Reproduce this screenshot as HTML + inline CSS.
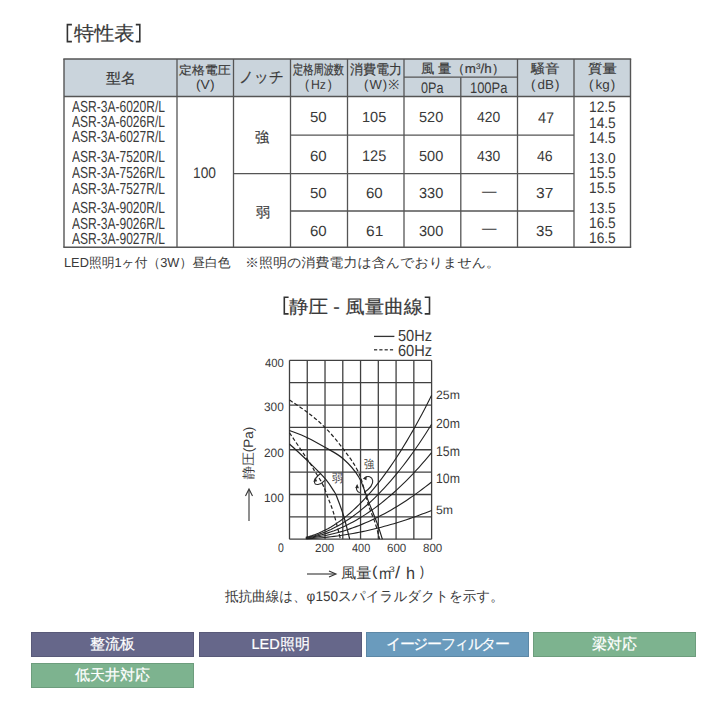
<!DOCTYPE html>
<html><head><meta charset="utf-8">
<style>
html,body{margin:0;padding:0;background:#fff;width:720px;height:720px;overflow:hidden;}
body{position:relative;font-family:"Liberation Sans",sans-serif;}
.t{position:absolute;white-space:nowrap;line-height:1.117;text-rendering:geometricPrecision;}
.j{-webkit-text-stroke:0.2px #3a3a3a;}
.tag{position:absolute;width:163px;height:24.7px;line-height:25px;text-align:center;color:#fff;font-size:14.5px;-webkit-text-stroke:0.2px #fff;box-sizing:border-box;box-shadow:inset 0 0 0 1px rgba(0,0,0,0.12);}
</style></head><body>
<div style="position:absolute;left:64px;top:59px;width:566.5px;height:37.5px;background:#cad4dc"></div>
<svg width="720" height="720" style="position:absolute;left:0;top:0"><line x1="289.50" y1="360.3" x2="289.50" y2="539.2" stroke="#404040" stroke-width="1.3"/><line x1="289.5" y1="360.30" x2="431.6" y2="360.30" stroke="#404040" stroke-width="1.3"/><line x1="307.26" y1="360.3" x2="307.26" y2="539.2" stroke="#404040" stroke-width="1.3"/><line x1="289.5" y1="382.66" x2="431.6" y2="382.66" stroke="#404040" stroke-width="1.3"/><line x1="325.02" y1="360.3" x2="325.02" y2="539.2" stroke="#404040" stroke-width="1.3"/><line x1="289.5" y1="405.03" x2="431.6" y2="405.03" stroke="#404040" stroke-width="1.3"/><line x1="342.79" y1="360.3" x2="342.79" y2="539.2" stroke="#404040" stroke-width="1.3"/><line x1="289.5" y1="427.39" x2="431.6" y2="427.39" stroke="#404040" stroke-width="1.3"/><line x1="360.55" y1="360.3" x2="360.55" y2="539.2" stroke="#404040" stroke-width="1.3"/><line x1="289.5" y1="449.75" x2="431.6" y2="449.75" stroke="#404040" stroke-width="1.3"/><line x1="378.31" y1="360.3" x2="378.31" y2="539.2" stroke="#404040" stroke-width="1.3"/><line x1="289.5" y1="472.11" x2="431.6" y2="472.11" stroke="#404040" stroke-width="1.3"/><line x1="396.08" y1="360.3" x2="396.08" y2="539.2" stroke="#404040" stroke-width="1.3"/><line x1="289.5" y1="494.48" x2="431.6" y2="494.48" stroke="#404040" stroke-width="1.3"/><line x1="413.84" y1="360.3" x2="413.84" y2="539.2" stroke="#404040" stroke-width="1.3"/><line x1="289.5" y1="516.84" x2="431.6" y2="516.84" stroke="#404040" stroke-width="1.3"/><line x1="431.60" y1="360.3" x2="431.60" y2="539.2" stroke="#404040" stroke-width="1.3"/><line x1="289.5" y1="539.20" x2="431.6" y2="539.20" stroke="#404040" stroke-width="1.3"/><line x1="63.3" y1="59" x2="631.2" y2="59" stroke="#555" stroke-width="1.5"/><line x1="63.3" y1="247.3" x2="631.2" y2="247.3" stroke="#555" stroke-width="1.5"/><line x1="64" y1="59" x2="64" y2="247.3" stroke="#555" stroke-width="1.4"/><line x1="630.5" y1="59" x2="630.5" y2="247.3" stroke="#555" stroke-width="1.4"/><line x1="64" y1="96.5" x2="630.5" y2="96.5" stroke="#555" stroke-width="1.4"/><line x1="177" y1="59" x2="177" y2="247.3" stroke="#555" stroke-width="1.3"/><line x1="233.5" y1="59" x2="233.5" y2="247.3" stroke="#555" stroke-width="1.3"/><line x1="290.5" y1="59" x2="290.5" y2="247.3" stroke="#555" stroke-width="1.3"/><line x1="347.5" y1="59" x2="347.5" y2="247.3" stroke="#555" stroke-width="1.3"/><line x1="404" y1="59" x2="404" y2="247.3" stroke="#555" stroke-width="1.3"/><line x1="460.8" y1="77.2" x2="460.8" y2="247.3" stroke="#555" stroke-width="1.3"/><line x1="517.5" y1="59" x2="517.5" y2="247.3" stroke="#555" stroke-width="1.3"/><line x1="574" y1="59" x2="574" y2="247.3" stroke="#555" stroke-width="1.3"/><line x1="404" y1="77.2" x2="517.5" y2="77.2" stroke="#555" stroke-width="1.3"/><line x1="290.5" y1="135.2" x2="574" y2="135.2" stroke="#555" stroke-width="1.3"/><line x1="233.5" y1="173.7" x2="574" y2="173.7" stroke="#555" stroke-width="1.3"/><line x1="290.5" y1="211" x2="574" y2="211" stroke="#555" stroke-width="1.3"/><line x1="374" y1="336.4" x2="394.4" y2="336.4" stroke="#333" stroke-width="1.3"/><line x1="374.0" y1="349.8" x2="377.2" y2="349.8" stroke="#333" stroke-width="1.3"/><line x1="379.3" y1="349.8" x2="382.5" y2="349.8" stroke="#333" stroke-width="1.3"/><line x1="384.6" y1="349.8" x2="387.8" y2="349.8" stroke="#333" stroke-width="1.3"/><line x1="389.9" y1="349.8" x2="393.09999999999997" y2="349.8" stroke="#333" stroke-width="1.3"/><path d="M289.50,430.52 C292.46,431.71 301.28,434.84 307.26,437.67 C313.24,440.51 319.40,444.01 325.38,447.51 C331.36,451.02 337.58,453.78 343.14,458.70 C348.71,463.61 354.54,469.88 358.77,477.03 C363.01,484.19 365.52,494.03 368.54,501.63 C371.56,509.23 374.58,516.39 376.89,522.65 C379.20,528.91 381.48,536.44 382.40,539.20" fill="none" stroke="#222" stroke-width="1.2"/><path d="M289.50,443.94 C292.70,446.92 302.70,456.01 308.68,461.83 C314.66,467.64 321.21,473.98 325.38,478.82 C329.55,483.67 331.86,487.99 333.73,490.90 C335.59,493.80 334.94,492.16 336.57,496.26 C338.20,500.36 341.31,508.34 343.50,515.50 C345.69,522.65 348.68,535.25 349.71,539.20" fill="none" stroke="#222" stroke-width="1.2"/><path d="M289.50,400.11 C292.46,402.12 301.28,407.56 307.26,412.18 C313.24,416.80 319.40,421.72 325.38,427.83 C331.36,433.95 337.58,441.33 343.14,448.86 C348.71,456.38 354.54,463.61 358.77,473.01 C363.01,482.40 365.76,496.71 368.54,505.21 C371.33,513.71 373.64,518.33 375.47,523.99 C377.31,529.66 378.87,536.67 379.56,539.20" fill="none" stroke="#222" stroke-width="1.2" stroke-dasharray="3.8,2.2"/><path d="M289.50,432.75 C292.90,437.82 305.81,456.91 309.93,463.17 C314.04,469.43 312.44,467.49 314.19,470.32 C315.94,473.16 318.66,477.11 320.41,480.16 C322.15,483.22 323.60,486.24 324.67,488.66 C325.74,491.08 325.32,490.67 326.80,494.70 C328.28,498.72 331.27,505.40 333.55,512.81 C335.83,520.23 339.32,534.80 340.48,539.20" fill="none" stroke="#222" stroke-width="1.2" stroke-dasharray="3.8,2.2"/><path d="M305.84,537.30 L308.99,536.49 L312.13,535.55 L315.27,534.46 L318.42,533.24 L321.56,531.87 L324.71,530.36 L327.85,528.71 L330.99,526.92 L334.14,524.99 L337.28,522.92 L340.43,520.70 L343.57,518.35 L346.71,515.85 L349.86,513.22 L353.00,510.44 L356.14,507.52 L359.29,504.46 L362.43,501.26 L365.58,497.92 L368.72,494.44 L371.86,490.82 L375.01,487.05 L378.15,483.15 L381.30,479.10 L384.44,474.91 L387.58,470.59 L390.73,466.12 L393.87,461.51 L397.02,456.75 L400.16,451.86 L403.30,446.83 L406.45,441.65 L409.59,436.34 L412.74,430.88 L415.88,425.29 L419.02,419.55 L422.17,413.67 L425.31,407.65 L428.46,401.49 L431.60,395.19" fill="none" stroke="#222" stroke-width="1.1"/><path d="M305.84,537.68 L308.99,537.04 L312.13,536.28 L315.27,535.42 L318.42,534.44 L321.56,533.35 L324.71,532.14 L327.85,530.83 L330.99,529.40 L334.14,527.86 L337.28,526.20 L340.43,524.44 L343.57,522.56 L346.71,520.57 L349.86,518.46 L353.00,516.25 L356.14,513.92 L359.29,511.48 L362.43,508.92 L365.58,506.25 L368.72,503.47 L371.86,500.58 L375.01,497.58 L378.15,494.46 L381.30,491.23 L384.44,487.89 L387.58,484.44 L390.73,480.87 L393.87,477.19 L397.02,473.40 L400.16,469.49 L403.30,465.48 L406.45,461.35 L409.59,457.10 L412.74,452.75 L415.88,448.28 L419.02,443.70 L422.17,439.01 L425.31,434.20 L428.46,429.29 L431.60,424.26" fill="none" stroke="#222" stroke-width="1.1"/><path d="M305.84,538.05 L308.99,537.57 L312.13,537.00 L315.27,536.35 L318.42,535.61 L321.56,534.79 L324.71,533.89 L327.85,532.89 L330.99,531.82 L334.14,530.66 L337.28,529.41 L340.43,528.08 L343.57,526.66 L346.71,525.16 L349.86,523.58 L353.00,521.91 L356.14,520.15 L359.29,518.31 L362.43,516.39 L365.58,514.38 L368.72,512.29 L371.86,510.11 L375.01,507.85 L378.15,505.50 L381.30,503.07 L384.44,500.55 L387.58,497.95 L390.73,495.26 L393.87,492.49 L397.02,489.63 L400.16,486.69 L403.30,483.66 L406.45,480.55 L409.59,477.36 L412.74,474.08 L415.88,470.71 L419.02,467.26 L422.17,463.73 L425.31,460.11 L428.46,456.40 L431.60,452.61" fill="none" stroke="#222" stroke-width="1.1"/><path d="M305.84,538.44 L308.99,538.12 L312.13,537.75 L315.27,537.32 L318.42,536.83 L321.56,536.29 L324.71,535.69 L327.85,535.03 L330.99,534.32 L334.14,533.55 L337.28,532.73 L340.43,531.85 L343.57,530.91 L346.71,529.92 L349.86,528.87 L353.00,527.77 L356.14,526.61 L359.29,525.39 L362.43,524.12 L365.58,522.79 L368.72,521.41 L371.86,519.97 L375.01,518.47 L378.15,516.92 L381.30,515.31 L384.44,513.65 L387.58,511.92 L390.73,510.15 L393.87,508.32 L397.02,506.43 L400.16,504.48 L403.30,502.48 L406.45,500.42 L409.59,498.31 L412.74,496.14 L415.88,493.92 L419.02,491.64 L422.17,489.30 L425.31,486.91 L428.46,484.46 L431.60,481.95" fill="none" stroke="#222" stroke-width="1.1"/><path d="M305.84,538.82 L308.99,538.66 L312.13,538.47 L315.27,538.25 L318.42,538.01 L321.56,537.73 L324.71,537.43 L327.85,537.10 L330.99,536.74 L334.14,536.36 L337.28,535.94 L340.43,535.50 L343.57,535.03 L346.71,534.53 L349.86,534.00 L353.00,533.45 L356.14,532.86 L359.29,532.25 L362.43,531.61 L365.58,530.94 L368.72,530.25 L371.86,529.52 L375.01,528.77 L378.15,527.99 L381.30,527.18 L384.44,526.34 L387.58,525.48 L390.73,524.58 L393.87,523.66 L397.02,522.71 L400.16,521.73 L403.30,520.73 L406.45,519.69 L409.59,518.63 L412.74,517.54 L415.88,516.42 L419.02,515.27 L422.17,514.09 L425.31,512.89 L428.46,511.66 L431.60,510.40" fill="none" stroke="#222" stroke-width="1.1"/><path d="M321,473.3 C317.5,475.5 314,479.5 314.5,482.5 C315,485.5 320,485.5 324.8,480.3" fill="none" stroke="#2a2a2a" stroke-width="1.1"/><path d="M313.3,481.8 L315.2,477.3 L317.2,481.3 Z" fill="#2a2a2a"/><path d="M364.5,477.8 C368,475.5 372,476.5 372.7,480.5 C373.3,484.5 368.5,489.5 364.2,492.5" fill="none" stroke="#2a2a2a" stroke-width="1.1"/><path d="M362.8,478.4 L366.8,476.2 L366.4,480.2 Z" fill="#2a2a2a"/><path d="M359.8,492.8 C356.5,491.5 355.8,488.5 357,485.8" fill="none" stroke="#2a2a2a" stroke-width="1.1"/><path d="M355.2,488 L357.2,484 L359,488.2 Z" fill="#2a2a2a"/><line x1="249" y1="521" x2="249" y2="490" stroke="#333" stroke-width="1.1"/><path d="M245.5,496 L249,489 L252.5,496" fill="none" stroke="#333" stroke-width="1.1"/><line x1="307" y1="574" x2="335" y2="574" stroke="#333" stroke-width="1.1"/><path d="M329,571 L336,574 L329,577" fill="none" stroke="#333" stroke-width="1.1"/><path d="M71.9,24.6 L67.39999999999999,24.6 L67.39999999999999,41.6 L71.9,41.6" fill="none" stroke="#333" stroke-width="1.6"/><path d="M135.8,24.6 L139.79999999999998,24.6 L139.79999999999998,41.6 L135.8,41.6" fill="none" stroke="#333" stroke-width="1.6"/><path d="M288.6,297.2 L284.3,297.2 L284.3,313.9 L288.6,313.9" fill="none" stroke="#333" stroke-width="1.6"/><path d="M424.7,297.2 L429.5,297.2 L429.5,313.9 L424.7,313.9" fill="none" stroke="#333" stroke-width="1.6"/></svg>
<div id="title" class="t j" style="left:73.70px;top:23.30px;font-size:20px;color:#3a3a3a;transform:scale(1.0088,0.9816);transform-origin:0 0;">特性表</div><div id="h_model" class="t j" style="left:105.87px;top:70.72px;font-size:14.5px;color:#3a3a3a;transform:scale(1.0320,0.9705);transform-origin:0 0;">型名</div><div id="h_v1" class="t j" style="left:179.22px;top:64.54px;font-size:12.5px;color:#3a3a3a;transform:scale(1.0308,0.9293);transform-origin:0 0;">定格電圧</div><div id="h_v2" class="t" style="left:195.72px;top:77.72px;font-size:13px;color:#3a3a3a;transform:scale(1.0676,1.0000);transform-origin:0 0;">(V)</div><div id="h_notch" class="t j" style="left:238.66px;top:69.88px;font-size:14.5px;color:#3a3a3a;transform:scale(1.0068,1.0290);transform-origin:0 0;">ノッチ</div><div id="h_hz1" class="t j" style="left:292.61px;top:63.49px;font-size:11px;color:#3a3a3a;transform:scale(0.9288,1.1864);transform-origin:0 0;">定格周波数</div><div id="h_hz2" class="t" style="left:305.13px;top:78.30px;font-size:13px;color:#3a3a3a;transform:scale(0.9430,1.0000);transform-origin:0 0;"><span style="margin-right:2px">(</span>Hz<span style="margin-left:2px">)</span></div><div id="h_w1" class="t j" style="left:349.67px;top:62.66px;font-size:12.5px;color:#3a3a3a;transform:scale(1.0422,1.0833);transform-origin:0 0;">消費電力</div><div id="h_w2" class="t" style="left:363.53px;top:78.40px;font-size:13px;color:#3a3a3a;transform:scale(1.0085,1.0000);transform-origin:0 0;"><span style="margin-right:1px">(</span>W<span style="margin-left:1px;margin-right:1px">)</span>※</div><div id="h_air" class="t j" style="left:421.46px;top:61.65px;font-size:13px;color:#3a3a3a;transform:scale(1.0275,1.0000);transform-origin:0 0;">風 量（m<span style="font-size:8px;vertical-align:4px">3</span>/h）</div><div id="h_0pa" class="t" style="left:420.83px;top:79.71px;font-size:13px;color:#3a3a3a;transform:scale(0.9694,1.1739);transform-origin:0 0;">0Pa</div><div id="h_100pa" class="t" style="left:469.57px;top:79.71px;font-size:13px;color:#3a3a3a;transform:scale(0.9940,1.1739);transform-origin:0 0;">100Pa</div><div id="h_db1" class="t j" style="left:531.47px;top:62.43px;font-size:13.5px;color:#3a3a3a;transform:scale(1.0498,0.9486);transform-origin:0 0;">騒音</div><div id="h_db2" class="t" style="left:530.64px;top:77.91px;font-size:13px;color:#3a3a3a;transform:scale(1.0332,1.0000);transform-origin:0 0;"><span style="margin-right:2px">(</span>dB<span style="margin-left:1px">)</span></div><div id="h_kg1" class="t j" style="left:587.74px;top:62.46px;font-size:13.5px;color:#3a3a3a;transform:scale(1.0663,0.9486);transform-origin:0 0;">質量</div><div id="h_kg2" class="t" style="left:588.72px;top:78.42px;font-size:13px;color:#3a3a3a;transform:scale(1.0348,1.0000);transform-origin:0 0;"><span style="margin-right:2px">(</span>kg<span style="margin-left:1px">)</span></div><div id="m0" class="t" style="left:71.75px;top:99.20px;font-size:14.4px;color:#3a3a3a;transform:scale(0.8361,1.1132);transform-origin:0 0;">ASR-3A-6020R/L</div><div id="m1" class="t" style="left:71.75px;top:114.20px;font-size:14.4px;color:#3a3a3a;transform:scale(0.8361,1.1132);transform-origin:0 0;">ASR-3A-6026R/L</div><div id="m2" class="t" style="left:71.75px;top:129.33px;font-size:14.4px;color:#3a3a3a;transform:scale(0.8361,1.1132);transform-origin:0 0;">ASR-3A-6027R/L</div><div id="m3" class="t" style="left:71.75px;top:149.20px;font-size:14.4px;color:#3a3a3a;transform:scale(0.8361,1.1132);transform-origin:0 0;">ASR-3A-7520R/L</div><div id="m4" class="t" style="left:71.75px;top:165.33px;font-size:14.4px;color:#3a3a3a;transform:scale(0.8361,1.1132);transform-origin:0 0;">ASR-3A-7526R/L</div><div id="m5" class="t" style="left:71.75px;top:180.80px;font-size:14.4px;color:#3a3a3a;transform:scale(0.8361,1.1132);transform-origin:0 0;">ASR-3A-7527R/L</div><div id="m6" class="t" style="left:71.75px;top:200.33px;font-size:14.4px;color:#3a3a3a;transform:scale(0.8361,1.1132);transform-origin:0 0;">ASR-3A-9020R/L</div><div id="m7" class="t" style="left:71.75px;top:215.80px;font-size:14.4px;color:#3a3a3a;transform:scale(0.8361,1.1132);transform-origin:0 0;">ASR-3A-9026R/L</div><div id="m8" class="t" style="left:71.75px;top:231.44px;font-size:14.4px;color:#3a3a3a;transform:scale(0.8361,1.1132);transform-origin:0 0;">ASR-3A-9027R/L</div><div id="v100" class="t" style="left:193.37px;top:165.15px;font-size:14.5px;color:#3a3a3a;transform:scale(0.9482,1.0565);transform-origin:0 0;">100</div><div id="strong" class="t j" style="left:254.69px;top:128.52px;font-size:14px;color:#3a3a3a;transform:scale(1.0045,1.0493);transform-origin:0 0;">強</div><div id="weak" class="t j" style="left:256.00px;top:204.58px;font-size:14px;color:#3a3a3a;transform:scale(1.0000,1.0000);transform-origin:0 0;">弱</div><div id="d00" class="t" style="left:309.60px;top:110.27px;font-size:14.5px;color:#3a3a3a;transform:scale(1.0363,1.0114);transform-origin:0 0;">50</div><div id="d01" class="t" style="left:362.45px;top:110.27px;font-size:14.5px;color:#3a3a3a;transform:scale(1.0029,1.0114);transform-origin:0 0;">105</div><div id="d02" class="t" style="left:419.49px;top:110.27px;font-size:14.5px;color:#3a3a3a;transform:scale(1.0018,1.0114);transform-origin:0 0;">520</div><div id="d03" class="t" style="left:477.35px;top:110.27px;font-size:14.5px;color:#3a3a3a;transform:scale(0.9600,1.0114);transform-origin:0 0;">420</div><div id="d04" class="t" style="left:537.51px;top:109.69px;font-size:14.5px;color:#3a3a3a;transform:scale(1.0037,1.0611);transform-origin:0 0;">47</div><div id="d10" class="t" style="left:309.60px;top:149.00px;font-size:14.5px;color:#3a3a3a;transform:scale(1.0363,1.0114);transform-origin:0 0;">60</div><div id="d11" class="t" style="left:362.45px;top:148.00px;font-size:14.5px;color:#3a3a3a;transform:scale(1.0029,1.0611);transform-origin:0 0;">125</div><div id="d12" class="t" style="left:419.49px;top:149.00px;font-size:14.5px;color:#3a3a3a;transform:scale(1.0018,1.0114);transform-origin:0 0;">500</div><div id="d13" class="t" style="left:477.35px;top:149.00px;font-size:14.5px;color:#3a3a3a;transform:scale(0.9600,1.0114);transform-origin:0 0;">430</div><div id="d14" class="t" style="left:537.49px;top:148.59px;font-size:14.5px;color:#3a3a3a;transform:scale(0.9722,1.0114);transform-origin:0 0;">46</div><div id="d20" class="t" style="left:309.60px;top:186.49px;font-size:14.5px;color:#3a3a3a;transform:scale(1.0363,1.0114);transform-origin:0 0;">50</div><div id="d21" class="t" style="left:366.43px;top:186.49px;font-size:14.5px;color:#3a3a3a;transform:scale(1.0363,1.0114);transform-origin:0 0;">60</div><div id="d22" class="t" style="left:419.49px;top:186.49px;font-size:14.5px;color:#3a3a3a;transform:scale(1.0018,1.0114);transform-origin:0 0;">330</div><div id="d23" class="t" style="left:489.15px;top:184.43px;font-size:14.5px;color:#3a3a3a;transform:translateX(-50%);">—</div><div id="d24" class="t" style="left:536.40px;top:186.49px;font-size:14.5px;color:#3a3a3a;transform:scale(1.0754,1.0114);transform-origin:0 0;">37</div><div id="d30" class="t" style="left:309.60px;top:224.09px;font-size:14.5px;color:#3a3a3a;transform:scale(1.0363,1.0114);transform-origin:0 0;">60</div><div id="d31" class="t" style="left:366.43px;top:224.09px;font-size:14.5px;color:#3a3a3a;transform:scale(1.0700,1.0114);transform-origin:0 0;">61</div><div id="d32" class="t" style="left:419.49px;top:224.09px;font-size:14.5px;color:#3a3a3a;transform:scale(1.0018,1.0114);transform-origin:0 0;">300</div><div id="d33" class="t" style="left:489.15px;top:221.23px;font-size:14.5px;color:#3a3a3a;transform:translateX(-50%);">—</div><div id="d34" class="t" style="left:536.43px;top:224.09px;font-size:14.5px;color:#3a3a3a;transform:scale(1.0416,1.0114);transform-origin:0 0;">35</div><div id="kg0" class="t" style="left:588.58px;top:98.91px;font-size:14px;color:#3a3a3a;transform:scale(0.9826,1.0848);transform-origin:0 0;">12.5</div><div id="kg1" class="t" style="left:588.57px;top:114.78px;font-size:14px;color:#3a3a3a;transform:scale(0.9826,1.0777);transform-origin:0 0;">14.5</div><div id="kg2" class="t" style="left:588.60px;top:129.75px;font-size:14px;color:#3a3a3a;transform:scale(0.9826,1.1088);transform-origin:0 0;">14.5</div><div id="kg3" class="t" style="left:588.61px;top:150.71px;font-size:14px;color:#3a3a3a;transform:scale(0.9826,1.0284);transform-origin:0 0;">13.0</div><div id="kg4" class="t" style="left:588.60px;top:164.62px;font-size:14px;color:#3a3a3a;transform:scale(0.9826,1.1088);transform-origin:0 0;">15.5</div><div id="kg5" class="t" style="left:588.58px;top:180.35px;font-size:14px;color:#3a3a3a;transform:scale(0.9826,1.0848);transform-origin:0 0;">15.5</div><div id="kg6" class="t" style="left:588.57px;top:200.07px;font-size:14px;color:#3a3a3a;transform:scale(0.9826,1.0612);transform-origin:0 0;">13.5</div><div id="kg7" class="t" style="left:588.58px;top:214.77px;font-size:14px;color:#3a3a3a;transform:scale(0.9826,1.0848);transform-origin:0 0;">16.5</div><div id="kg8" class="t" style="left:588.60px;top:230.42px;font-size:14px;color:#3a3a3a;transform:scale(0.9826,1.0851);transform-origin:0 0;">16.5</div><div id="foot1" class="t" style="left:63.72px;top:255.56px;font-size:13px;color:#3a3a3a;transform:scale(0.9837,1.0000);transform-origin:0 0;">LED照明1ヶ付（3W）昼白色</div><div id="foot2" class="t" style="left:244.54px;top:255.81px;font-size:13px;color:#3a3a3a;transform:scale(1.0775,1.0000);transform-origin:0 0;">※照明の消費電力は含んでおりません。</div><div id="ctitle" class="t j" style="left:289.25px;top:296.63px;font-size:19px;color:#3a3a3a;transform:scale(1.0251,0.9759);transform-origin:0 0;">静圧 - 風量曲線</div><div id="leg50" class="t" style="left:397.70px;top:328.45px;font-size:15px;color:#3a3a3a;transform:scale(0.9713,1.0704);transform-origin:0 0;">50Hz</div><div id="leg60" class="t" style="left:397.70px;top:343.26px;font-size:15px;color:#3a3a3a;transform:scale(0.9713,1.0771);transform-origin:0 0;">60Hz</div><div id="yl400" class="t" style="left:265.41px;top:357.35px;font-size:12px;color:#3a3a3a;transform:scale(0.9402,0.9872);transform-origin:0 0;">400</div><div id="yl300" class="t" style="left:264.42px;top:401.28px;font-size:12px;color:#3a3a3a;transform:scale(0.9897,1.0184);transform-origin:0 0;">300</div><div id="yl200" class="t" style="left:264.42px;top:446.54px;font-size:12px;color:#3a3a3a;transform:scale(0.9897,1.0101);transform-origin:0 0;">200</div><div id="yl100" class="t" style="left:264.42px;top:491.80px;font-size:12px;color:#3a3a3a;transform:scale(0.9897,1.0101);transform-origin:0 0;">100</div><div id="yl_0" class="t" style="left:277.69px;top:542.32px;font-size:12px;color:#3a3a3a;transform:scale(0.8706,1.0464);transform-origin:0 0;">0</div><div id="xl200" class="t" style="left:314.99px;top:542.38px;font-size:12px;color:#3a3a3a;transform:scale(0.9627,0.9872);transform-origin:0 0;">200</div><div id="xl400" class="t" style="left:351.51px;top:542.35px;font-size:12px;color:#3a3a3a;transform:scale(0.9086,0.9872);transform-origin:0 0;">400</div><div id="xl600" class="t" style="left:387.05px;top:542.38px;font-size:12px;color:#3a3a3a;transform:scale(0.9627,0.9872);transform-origin:0 0;">600</div><div id="xl800" class="t" style="left:422.54px;top:542.38px;font-size:12px;color:#3a3a3a;transform:scale(0.9627,0.9872);transform-origin:0 0;">800</div><div id="rl25m" class="t" style="left:436.43px;top:388.70px;font-size:12px;color:#3a3a3a;transform:scale(1.0241,1.0101);transform-origin:0 0;">25m</div><div id="rl20m" class="t" style="left:436.43px;top:416.88px;font-size:12px;color:#3a3a3a;transform:scale(1.0241,1.1082);transform-origin:0 0;">20m</div><div id="rl15m" class="t" style="left:436.43px;top:443.67px;font-size:12px;color:#3a3a3a;transform:scale(1.0241,1.1594);transform-origin:0 0;">15m</div><div id="rl10m" class="t" style="left:436.43px;top:471.67px;font-size:12px;color:#3a3a3a;transform:scale(1.0241,1.1415);transform-origin:0 0;">10m</div><div id="rl5m" class="t" style="left:436.43px;top:503.61px;font-size:12px;color:#3a3a3a;transform:scale(1.0211,1.0101);transform-origin:0 0;">5m</div><div id="c_strong" class="t" style="left:363.61px;top:458.69px;font-size:10.5px;color:#3a3a3a;transform:scale(0.9722,1.1111);transform-origin:0 0;">強</div><div id="c_weak" class="t" style="left:331.56px;top:472.69px;font-size:10.5px;color:#3a3a3a;transform:scale(1.0124,1.1111);transform-origin:0 0;">弱</div><div id="xt_k" class="t" style="left:341.29px;top:564.76px;font-size:14px;color:#3a3a3a;transform:scale(1.0927,1.0442);transform-origin:0 0;">風量</div><div id="xt_lp" class="t" style="left:371.55px;top:563.96px;font-size:14px;color:#3a3a3a;transform:scale(1.1700,1.0000);transform-origin:0 0;">(</div><div id="xt_m" class="t" style="left:378.53px;top:564.66px;font-size:14px;color:#3a3a3a;transform:scale(1.0536,1.1329);transform-origin:0 0;">m</div><div id="xt_3" class="t" style="left:389.39px;top:566.25px;font-size:8px;color:#3a3a3a;transform:scale(1.3000,1.0000);transform-origin:0 0;">3</div><div id="xt_sl" class="t" style="left:395.00px;top:563.86px;font-size:14px;color:#3a3a3a;transform:scale(1.3000,1.2026);transform-origin:0 0;">/</div><div id="xt_h" class="t" style="left:405.54px;top:563.90px;font-size:14px;color:#3a3a3a;transform:scale(1.1607,1.2139);transform-origin:0 0;">h</div><div id="xt_rp" class="t" style="left:419.68px;top:563.96px;font-size:14px;color:#3a3a3a;transform:scale(0.8715,1.0000);transform-origin:0 0;">)</div><div id="caption" class="t" style="left:225.00px;top:589.09px;font-size:14px;color:#3a3a3a;transform:scale(0.9678,1.0000);transform-origin:0 0;">抵抗曲線は、φ150スパイラルダクトを示す。</div><div id="ytitle" class="t" style="left:249px;top:453px;font-size:13.5px;color:#3a3a3a;transform:translate(-50%,-50%) rotate(-90deg);">静圧(Pa)</div>
<div class="tag" style="left:31px;top:632px;background:#66678a;">整流板</div><div class="tag" style="left:199px;top:632px;background:#66678a;">LED照明</div><div class="tag" style="left:366px;top:632px;background:#6a9bbd;letter-spacing:-1.4px;">イージーフィルター</div><div class="tag" style="left:533px;top:632px;background:#7db38f;">梁対応</div><div class="tag" style="left:31px;top:663px;background:#7db38f;">低天井対応</div>
</body></html>
